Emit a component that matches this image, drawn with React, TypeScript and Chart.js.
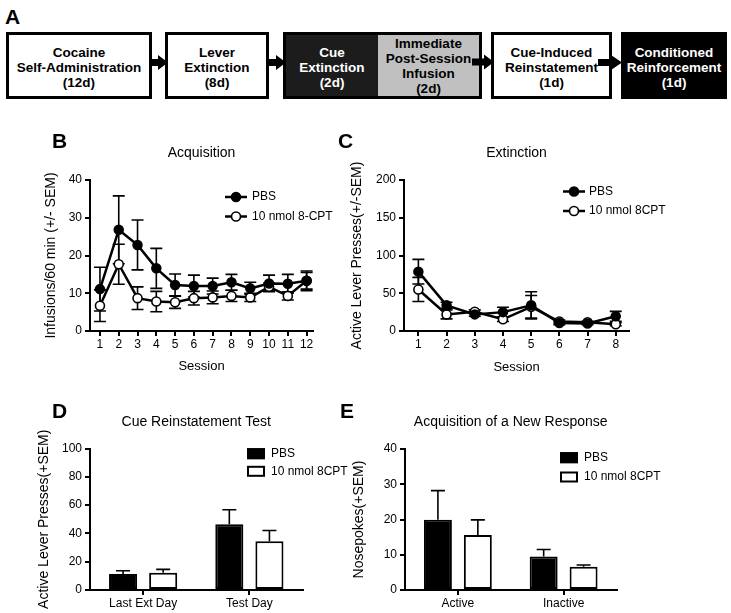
import React, { useEffect, useRef } from 'react';
import { Chart, registerables } from 'chart.js';

Chart.register(...registerables);

const FONT = "'Liberation Sans', Arial, Helvetica, sans-serif";
Chart.defaults.font.family = FONT;
Chart.defaults.color = '#000';

// ---------- Panel B: Acquisition ----------
const acqSessions = [1, 2, 3, 4, 5, 6, 7, 8, 9, 10, 11, 12];
const acqPBS = [11.1, 26.8, 22.8, 16.6, 12.2, 11.9, 11.9, 12.9, 11.3, 12.6, 12.5, 13.3];
const acqPBSsem = [5.8, 9.0, 6.6, 5.3, 2.9, 2.9, 2.1, 2.1, 1.6, 2.2, 2.5, 2.2];
const acqCPT = [6.7, 17.7, 8.7, 7.8, 7.6, 8.7, 8.9, 9.3, 8.9, 11.7, 9.3, 13.3];
const acqCPTsem = [4.2, 5.3, 3.0, 2.7, 1.6, 1.8, 1.7, 1.5, 1.1, 1.0, 1.1, 2.6];

// ---------- Panel C: Extinction ----------
const extSessions = [1, 2, 3, 4, 5, 6, 7, 8];
const extPBS = [78.6, 34, 22, 25, 34, 10.5, 10, 19.5];
const extPBSsem = [16.3, 4, 2.5, 6.5, 18, 2, 1.5, 6.5];
const extCPT = [55, 22, 25.5, 15.5, 32, 12.5, 11.5, 9];
const extCPTsem = [16, 6, 2.5, 3, 15, 2, 1.5, 2];

// ---------- Panel D: Cue Reinstatement Test ----------
const cueCats = ['Last Ext Day', 'Test Day'];
const cuePBS = [11.3, 46.4];
const cuePBSsem = [2.3, 10.3];
const cueCPT = [12.2, 34.4];
const cueCPTsem = [2.4, 7.7];

// ---------- Panel E: Acquisition of a New Response ----------
const newCats = ['Active', 'Inactive'];
const newPBS = [19.9, 9.5];
const newPBSsem = [8.3, 2.0];
const newCPT = [15.6, 6.6];
const newCPTsem = [4.3, 0.5];

type Box = { x: number; y: number; w: number; h: number };
type Area = { l: number; t: number; r: number; b: number };

function errorBarPlugin(mode: 'both' | 'up', cap: number, sems: number[][], vals: number[][]) {
  const draw = (chart: any) => {
    const ctx = chart.ctx;
    ctx.save();
    ctx.strokeStyle = '#000';
    ctx.lineWidth = 1.6;
    chart.data.datasets.forEach((_ds: any, i: number) => {
      const meta = chart.getDatasetMeta(i);
      const ys = chart.scales[meta.yAxisID];
      meta.data.forEach((el: any, j: number) => {
        const v = vals[i][j];
        const e = sems[i][j];
        const x = el.x;
        const top = ys.getPixelForValue(v + e);
        const bot = ys.getPixelForValue(mode === 'both' ? v - e : v);
        ctx.beginPath();
        ctx.moveTo(x, bot);
        ctx.lineTo(x, top);
        ctx.moveTo(x - cap / 2, top);
        ctx.lineTo(x + cap / 2, top);
        if (mode === 'both') {
          ctx.moveTo(x - cap / 2, bot);
          ctx.lineTo(x + cap / 2, bot);
        }
        ctx.stroke();
      });
    });
    ctx.restore();
  };
  return {
    id: 'errorBars',
    beforeDatasetsDraw(chart: any) {
      if (mode === 'both') draw(chart);
    },
    afterDatasetsDraw(chart: any) {
      if (mode === 'up') draw(chart);
    },
  };
}

function legendPlugin(kind: 'line' | 'bar', box: Box, g: { x1: number; x2: number; ys: number[]; textX: number }) {
  return {
    id: 'customLegend',
    afterDraw(chart: any) {
      const ctx = chart.ctx;
      ctx.save();
      chart.data.datasets.forEach((ds: any, i: number) => {
        const y = g.ys[i] - box.y;
        const x1 = g.x1 - box.x;
        const x2 = g.x2 - box.x;
        ctx.strokeStyle = '#000';
        if (kind === 'line') {
          ctx.lineWidth = 2.5;
          ctx.beginPath();
          ctx.moveTo(x1, y);
          ctx.lineTo(x2, y);
          ctx.stroke();
          ctx.beginPath();
          ctx.arc((x1 + x2) / 2, y, 4.5, 0, Math.PI * 2);
          ctx.fillStyle = ds.pointBackgroundColor;
          ctx.fill();
          ctx.lineWidth = 1.6;
          ctx.stroke();
        } else {
          const h = 11;
          ctx.fillStyle = ds.backgroundColor;
          ctx.fillRect(x1, y - h / 2, x2 - x1, h);
          ctx.lineWidth = 2;
          ctx.strokeRect(x1 + 1, y - h / 2 + 1, x2 - x1 - 2, h - 2);
        }
        ctx.fillStyle = '#000';
        ctx.font = `12px ${FONT}`;
        ctx.textBaseline = 'middle';
        ctx.textAlign = 'left';
        ctx.fillText(ds.label, g.textX - box.x, y);
      });
      ctx.restore();
    },
  };
}

function axisCommon(tickPad: number) {
  return {
    grid: { drawOnChartArea: false, drawTicks: true, tickLength: 5, tickColor: '#000', tickWidth: 2, color: '#000', lineWidth: 2 },
    border: { display: true, color: '#000', width: 2 },
    ticks: { color: '#000', font: { size: 12, family: FONT }, padding: tickPad },
  };
}

function baseOptions(box: Box, area: Area, title: string, titleY: number) {
  const lh = 14 * 1.2;
  const pt = titleY - box.y - lh / 2;
  const pb = area.t - box.y - pt - lh;
  return {
    responsive: false,
    animation: false,
    devicePixelRatio: 1,
    layout: { padding: { left: 0, top: 0, bottom: 0, right: box.x + box.w - area.r } },
    plugins: {
      legend: { display: false },
      tooltip: { enabled: false },
      title: {
        display: true,
        text: title,
        fullSize: false,
        color: '#000',
        font: { size: 14, weight: 'normal', family: FONT },
        padding: { top: pt, bottom: pb },
      },
    },
  };
}

function yScale(box: Box, area: Area, max: number, step: number, title: string, titleX: number) {
  const c = axisCommon(3);
  return {
    type: 'linear',
    min: 0,
    max,
    ...c,
    ticks: { ...c.ticks, stepSize: step },
    title: {
      display: true,
      text: title,
      color: '#000',
      font: { size: 14, family: FONT },
      padding: { top: titleX - box.x - 8.4, bottom: 0 },
    },
    afterFit: (s: any) => {
      s.width = area.l - box.x;
    },
  };
}

interface LineSpec {
  box: Box; area: Area; title: string; titleY: number;
  yTitle: string; yTitleX: number; yMax: number; yStep: number;
  xTitleY: number; xMin: number; xMax: number;
  sessions: number[]; pbs: number[]; pbsSem: number[]; cpt: number[]; cptSem: number[];
  cptLabel: string; legend: { x1: number; x2: number; ys: number[]; textX: number };
}

function lineConfig(s: LineSpec): any {
  const c = axisCommon(1);
  const xlh = 13 * 1.2;
  return {
    type: 'line',
    data: {
      datasets: [
        {
          label: 'PBS',
          data: s.sessions.map((x, i) => ({ x, y: s.pbs[i] })),
          borderColor: '#000', borderWidth: 2.5, tension: 0,
          pointRadius: 4.5, pointBackgroundColor: '#000', pointBorderColor: '#000', pointBorderWidth: 1.5,
          clip: false,
        },
        {
          label: s.cptLabel,
          data: s.sessions.map((x, i) => ({ x, y: s.cpt[i] })),
          borderColor: '#000', borderWidth: 2.5, tension: 0,
          pointRadius: 4.5, pointBackgroundColor: '#fff', pointBorderColor: '#000', pointBorderWidth: 1.6,
          clip: false,
        },
      ],
    },
    options: {
      ...baseOptions(s.box, s.area, s.title, s.titleY),
      scales: {
        x: {
          type: 'linear',
          min: s.xMin,
          max: s.xMax,
          ...c,
          afterBuildTicks: (sc: any) => {
            sc.ticks = s.sessions.map((v) => ({ value: v }));
          },
          title: {
            display: true,
            text: 'Session',
            color: '#000',
            font: { size: 13, family: FONT },
            padding: { top: 0, bottom: s.box.h - (s.xTitleY - s.box.y) - xlh / 2 },
          },
          afterFit: (sc: any) => {
            sc.height = s.box.y + s.box.h - s.area.b;
          },
        },
        y: yScale(s.box, s.area, s.yMax, s.yStep, s.yTitle, s.yTitleX),
      },
    },
    plugins: [
      errorBarPlugin('both', 12, [s.pbsSem, s.cptSem], [s.pbs, s.cpt]),
      legendPlugin('line', s.box, s.legend),
    ],
  };
}

interface BarSpec {
  box: Box; area: Area; title: string; titleY: number;
  yTitle: string; yTitleX: number; yMax: number; yStep: number;
  cats: string[]; pbs: number[]; pbsSem: number[]; cpt: number[]; cptSem: number[];
  legend: { x1: number; x2: number; ys: number[]; textX: number };
}

function barConfig(s: BarSpec): any {
  const c = axisCommon(1);
  const common = { borderColor: '#000', borderWidth: 2, borderSkipped: false, categoryPercentage: 0.755, barPercentage: 0.7 };
  return {
    type: 'bar',
    data: {
      labels: s.cats,
      datasets: [
        { label: 'PBS', data: s.pbs, backgroundColor: '#000', ...common },
        { label: '10 nmol 8CPT', data: s.cpt, backgroundColor: '#fff', ...common },
      ],
    },
    options: {
      ...baseOptions(s.box, s.area, s.title, s.titleY),
      scales: {
        x: {
          type: 'category',
          offset: true,
          ...c,
          grid: { ...c.grid, offset: false },
          afterFit: (sc: any) => {
            sc.height = s.box.y + s.box.h - s.area.b;
          },
        },
        y: yScale(s.box, s.area, s.yMax, s.yStep, s.yTitle, s.yTitleX),
      },
    },
    plugins: [
      errorBarPlugin('up', 14, [s.pbsSem, s.cptSem], [s.pbs, s.cpt]),
      legendPlugin('bar', s.box, s.legend),
    ],
  };
}

const specB: LineSpec = {
  box: { x: 0, y: 130, w: 360, h: 250 },
  area: { l: 90, t: 180, r: 313, b: 331 },
  title: 'Acquisition', titleY: 153,
  yTitle: 'Infusions/60 min (+/- SEM)', yTitleX: 51, yMax: 40, yStep: 10,
  xTitleY: 366, xMin: 0.47, xMax: 12.34,
  sessions: acqSessions, pbs: acqPBS, pbsSem: acqPBSsem, cpt: acqCPT, cptSem: acqCPTsem,
  cptLabel: '10 nmol 8-CPT',
  legend: { x1: 225, x2: 247, ys: [197, 216.5], textX: 252 },
};

const specC: LineSpec = {
  box: { x: 340, y: 130, w: 391, h: 250 },
  area: { l: 404, t: 180, r: 629, b: 331 },
  title: 'Extinction', titleY: 153,
  yTitle: 'Active Lever Presses(+/-SEM)', yTitleX: 357, yMax: 200, yStep: 50,
  xTitleY: 367, xMin: 0.49, xMax: 8.47,
  sessions: extSessions, pbs: extPBS, pbsSem: extPBSsem, cpt: extCPT, cptSem: extCPTsem,
  cptLabel: '10 nmol 8CPT',
  legend: { x1: 563, x2: 585, ys: [191.5, 211], textX: 589 },
};

const specD: BarSpec = {
  box: { x: 0, y: 395, w: 360, h: 218 },
  area: { l: 90, t: 448.5, r: 302.5, b: 590 },
  title: 'Cue Reinstatement Test', titleY: 422,
  yTitle: 'Active Lever Presses(+SEM)', yTitleX: 44, yMax: 100, yStep: 20,
  cats: cueCats, pbs: cuePBS, pbsSem: cuePBSsem, cpt: cueCPT, cptSem: cueCPTsem,
  legend: { x1: 247, x2: 265, ys: [453.7, 471.3], textX: 271 },
};

const specE: BarSpec = {
  box: { x: 340, y: 395, w: 391, h: 218 },
  area: { l: 405, t: 449, r: 616.5, b: 590 },
  title: 'Acquisition of a New Response', titleY: 422.5,
  yTitle: 'Nosepokes(+SEM)', yTitleX: 359, yMax: 40, yStep: 10,
  cats: newCats, pbs: newPBS, pbsSem: newPBSsem, cpt: newCPT, cptSem: newCPTsem,
  legend: { x1: 560, x2: 578, ys: [457.7, 477], textX: 584 },
};

function ChartCanvas({ box, make }: { box: Box; make: () => any }) {
  const ref = useRef<HTMLCanvasElement>(null);
  useEffect(() => {
    const chart = new Chart(ref.current as HTMLCanvasElement, make());
    return () => chart.destroy();
  }, []);
  return (
    <canvas
      ref={ref}
      width={box.w}
      height={box.h}
      style={{ position: 'absolute', left: box.x, top: box.y, width: box.w, height: box.h }}
    />
  );
}

const letterStyle = (x: number, capTop: number): React.CSSProperties => ({
  position: 'absolute',
  left: x,
  top: capTop - 2.7,
  fontFamily: FONT,
  fontWeight: 'bold',
  fontSize: 21,
  lineHeight: '21px',
  color: '#000',
});

function StepBox({ x, w, bg, color, lines }: { x: number; w: number; bg: string; color: string; lines: string[] }) {
  return (
    <div
      style={{
        position: 'absolute',
        left: x,
        top: 32,
        width: w,
        height: 67,
        boxSizing: 'border-box',
        border: '3px solid #000',
        background: bg,
        color,
        display: 'flex',
        flexDirection: 'column',
        justifyContent: 'center',
        alignItems: 'center',
        paddingTop: 3,
        fontFamily: FONT,
        fontWeight: 'bold',
        fontSize: 13.5,
        lineHeight: '15px',
        textAlign: 'center',
        whiteSpace: 'nowrap',
      }}
    >
      {lines.map((l, i) => (
        <div key={i}>{l}</div>
      ))}
    </div>
  );
}

function Arrow({ x0, xb, xt, y }: { x0: number; xb: number; xt: number; y: number }) {
  return (
    <polygon
      points={`${x0},${y - 3.5} ${xb},${y - 3.5} ${xb},${y - 7.5} ${xt},${y} ${xb},${y + 7.5} ${xb},${y + 3.5} ${x0},${y + 3.5}`}
      fill="#000"
    />
  );
}

export default function App() {
  return (
    <div style={{ position: 'absolute', left: 0, top: 0, width: 731, height: 613, background: '#fff', overflow: 'hidden' }}>
      <div style={letterStyle(5, 9)}>A</div>
      <StepBox x={6} w={146} bg="#fff" color="#000" lines={['Cocaine', 'Self-Administration', '(12d)']} />
      <StepBox x={165} w={104} bg="#fff" color="#000" lines={['Lever', 'Extinction', '(8d)']} />
      <div
        style={{
          position: 'absolute', left: 283, top: 32, width: 199, height: 67, boxSizing: 'border-box',
          border: '3px solid #000', display: 'flex', fontFamily: FONT, fontWeight: 'bold', fontSize: 13.5,
          lineHeight: '15px', textAlign: 'center', whiteSpace: 'nowrap',
        }}
      >
        <div style={{ width: 92, background: '#1c1c1c', color: '#fff', display: 'flex', flexDirection: 'column', justifyContent: 'center', paddingTop: 3 }}>
          <div>Cue</div>
          <div>Extinction</div>
          <div>(2d)</div>
        </div>
        <div style={{ flex: 1, background: '#c0c0c0', color: '#000', display: 'flex', flexDirection: 'column', justifyContent: 'center', paddingTop: 1 }}>
          <div>Immediate</div>
          <div>Post-Session</div>
          <div>Infusion</div>
          <div>(2d)</div>
        </div>
      </div>
      <StepBox x={491} w={121} bg="#fff" color="#000" lines={['Cue-Induced', 'Reinstatement', '(1d)']} />
      <StepBox x={621} w={106} bg="#000" color="#fff" lines={['Conditioned', 'Reinforcement', '(1d)']} />
      <svg width={731} height={120} style={{ position: 'absolute', left: 0, top: 0 }}>
        <Arrow x0={152} xb={158} xt={168} y={62.5} />
        <Arrow x0={269} xb={276} xt={286} y={62.5} />
        <Arrow x0={472} xb={484} xt={494} y={62} />
        <Arrow x0={598} xb={611} xt={622} y={62.5} />
      </svg>

      <ChartCanvas box={specB.box} make={() => lineConfig(specB)} />
      <ChartCanvas box={specC.box} make={() => lineConfig(specC)} />
      <ChartCanvas box={specD.box} make={() => barConfig(specD)} />
      <ChartCanvas box={specE.box} make={() => barConfig(specE)} />

      <div style={letterStyle(52, 133)}>B</div>
      <div style={letterStyle(338, 133)}>C</div>
      <div style={letterStyle(52, 403)}>D</div>
      <div style={letterStyle(340, 403)}>E</div>
    </div>
  );
}
